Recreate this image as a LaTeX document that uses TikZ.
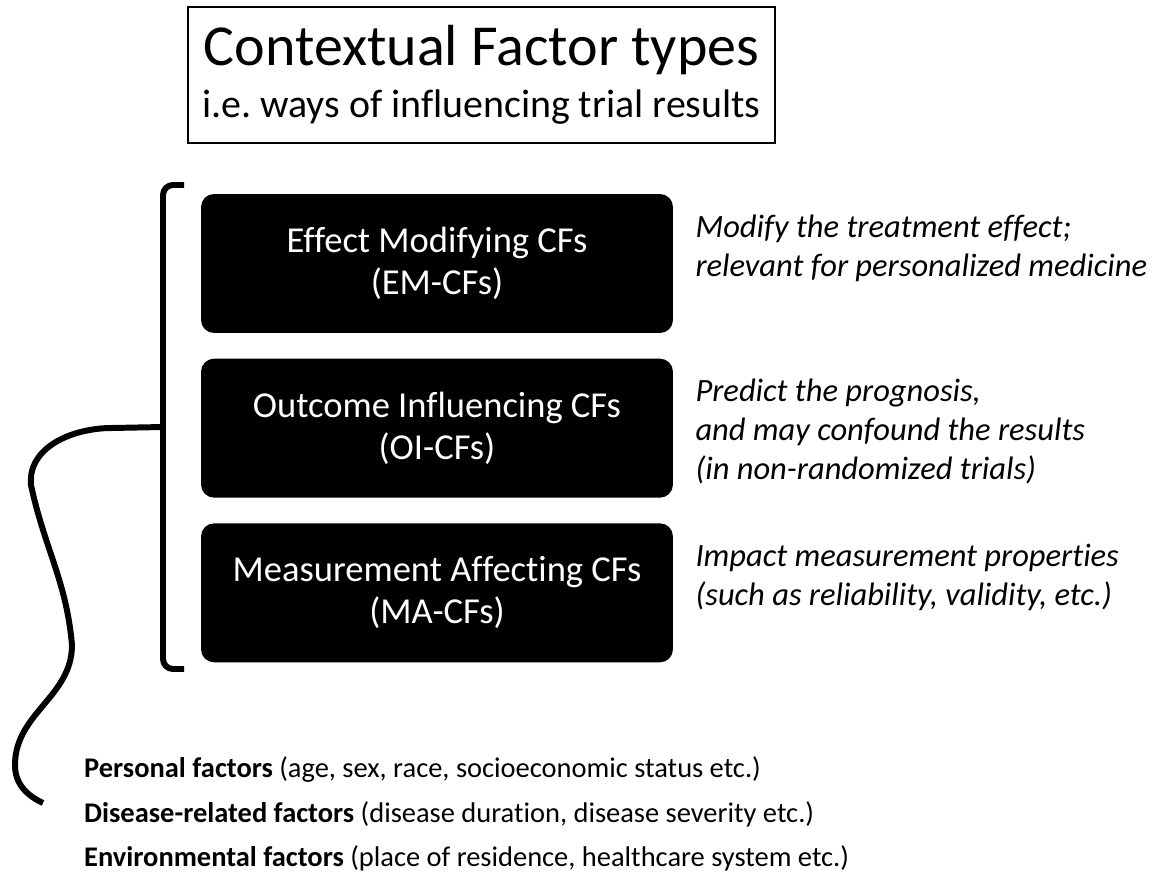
\documentclass[tikz,border=0pt]{standalone}
\usepackage{fontspec}
\setmainfont{Carlito}[Ligatures=NoCommon]
\frenchspacing
\usetikzlibrary{positioning}
\tikzset{
  cfbox/.style={fill=black, text=white, rounded corners=0.26cm, minimum width=9.44cm, minimum height=2.78cm, align=center, font=\fontsize{20.8}{23.9}\selectfont},
  cfnote/.style={anchor=west, align=left, font=\fontsize{18.5}{22.2}\selectfont\itshape},
  factor/.style={anchor=west, font=\fontsize{16.2}{19}\selectfont},
  brace/.style={line width=3.4pt}
}
\begin{document}
\begin{tikzpicture}[x=0.02cm, y=0.02cm]
        \useasboundingbox (0,0) rectangle (1155,-888);
        \node[draw, line width=0.9pt, minimum width=11.74cm, minimum height=2.72cm, align=center, font=\fontsize{22.7}{25.6}\selectfont] (title) at (481.5,-75)
          {{\fontsize{33}{36}\selectfont Contextual Factor types}\\[4pt]i.e. ways of influencing trial results};
        \node[cfbox] (em) at (437,-263.5) {Effect Modifying CFs\\(EM-CFs)};
        \node[cfbox, below=0.5cm of em] (oi) {Outcome Influencing CFs\\(OI-CFs)};
        \node[cfbox, below=0.5cm of oi] (ma) {Measurement Affecting CFs\\(MA-CFs)};
        \node[cfnote, right=0.32cm of em, yshift=0.3cm] (emnote) {Modify the treatment effect;\\relevant for personalized medicine};
        \node[cfnote, right=0.32cm of oi, yshift=-0.07cm] (oinote) {Predict the prognosis,\\and may confound the results\\(in non-randomized trials)};
        \node[cfnote, right=0.32cm of ma, yshift=0.3cm] (manote) {Impact measurement properties\\(such as reliability, validity, etc.)};
        \coordinate (brtop) at (184,-185);
        \coordinate (brbot) at (184,-669);
        \coordinate (brmid) at (163,-427);
        \coordinate (tail) at (43,-803);
        \draw[brace, rounded corners=0.2cm] (brtop) -- (163,-185) -- (163,-669) -- (brbot);
        \draw[brace] (brmid) -- (112,-428) to[out=180,in=95] (31,-485) to[out=-78,in=95] (72,-645)
          to[out=-90,in=90] (15,-765) to[out=-90,in=155] (tail);
        \node[factor] (pers) at (78,-770) {\textbf{Personal factors} (age, sex, race, socioeconomic status etc.)};
        \node[factor] (dis) at (78,-814) {\textbf{Disease-related factors} (disease duration, disease severity etc.)};
        \node[factor] (env) at (78,-858) {\textbf{Environmental factors} (place of residence, healthcare system etc.)};
      \end{tikzpicture}
\end{document}
